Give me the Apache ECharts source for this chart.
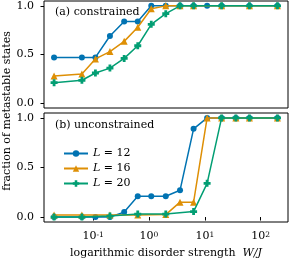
<!DOCTYPE html>
<html><head><meta charset="utf-8">
<script src="https://cdn.jsdelivr.net/npm/echarts@6/dist/echarts.min.js"></script>
<style>html,body{margin:0;padding:0;background:#fff}#c{width:293px;height:261px}</style>
</head><body><div id="c"></div>
<script>
const FONT = 'DejaVu Serif';
const xTickValues = [0.1, 1, 10, 100];
const yTickValues = [0, 0.5, 1];
const seriesNames = ['L = 12', 'L = 16', 'L = 20'];
const colors = ['#0173B2', '#DE8F05', '#029E73'];
// panel (a) constrained
const aX12 = [0.02, 0.063, 0.11, 0.2, 0.36, 0.63, 1.1, 2, 3.6, 6.3, 11, 20, 63, 200];
const aY12 = [0.47, 0.47, 0.47, 0.69, 0.84, 0.84, 1, 1, 1, 1, 1, 1, 1, 1];
const aX16 = [0.02, 0.063, 0.11, 0.2, 0.36, 0.63, 1.1, 2, 3.6, 6.3, 20, 63, 200];
const aY16 = [0.28, 0.30, 0.455, 0.53, 0.635, 0.78, 0.97, 1, 1, 1, 1, 1, 1];
const aX20 = [0.02, 0.063, 0.11, 0.2, 0.36, 0.63, 1.1, 2, 3.6, 6.3, 20, 63, 200];
const aY20 = [0.21, 0.235, 0.31, 0.36, 0.46, 0.59, 0.81, 0.92, 1, 1, 1, 1, 1];
// panel (b) unconstrained
const bX12 = [0.02, 0.063, 0.11, 0.2, 0.36, 0.63, 1.1, 2, 3.6, 6.3, 11, 20, 36, 63, 200];
const bY12 = [0, 0, 0, 0, 0.05, 0.21, 0.21, 0.21, 0.27, 0.89, 1, 1, 1, 1, 1];
const bX16 = [0.02, 0.063, 0.2, 0.63, 2, 3.6, 6.3, 11, 20, 36, 63, 200];
const bY16 = [0.02, 0.02, 0.02, 0.02, 0.025, 0.15, 0.15, 1, 1, 1, 1, 1];
const bX20 = [0.02, 0.063, 0.2, 0.63, 2, 6.3, 11, 20, 36, 63, 200];
const bY20 = [0, 0, 0.01, 0.03, 0.03, 0.055, 0.34, 1, 1, 1, 1];

const PLUS = 'path://M3,0H7V3H10V7H7V10H3V7H0V3H3Z';
const symbols = ['circle', 'triangle', PLUS];
const symSizes = [6, 7, 7];

function pairs(xs, ys) { return xs.map((x, i) => [x, ys[i]]); }
function mk(idx, panel, xs, ys) {
  return {
    type: 'line', name: seriesNames[idx], xAxisIndex: panel, yAxisIndex: panel,
    data: pairs(xs, ys), symbol: symbols[idx], symbolSize: symSizes[idx],
    lineStyle: { color: colors[idx], width: 1.5 },
    itemStyle: { color: colors[idx], borderWidth: 0 },
    z: 2 + idx, animation: false, silent: true
  };
}
function xFmt(v) {
  const e = Math.round(Math.log10(v));
  return '{b|10}{s|' + (e < 0 ? '-' + (-e) : e) + '}';
}
const txt = { fontFamily: FONT, fontSize: 11, color: '#000' };
function xAxis(panel, show) {
  return {
    type: 'log', logBase: 10, gridIndex: panel, min: 0.0132, max: 309,
    axisLine: { show: false }, splitLine: { show: false }, minorTick: { show: false },
    axisTick: { show: show, customValues: xTickValues, length: 3.5, lineStyle: { color: '#000', width: 1 } },
    axisLabel: { show: show, customValues: xTickValues, formatter: xFmt, margin: 9,
      rich: { b: { fontFamily: FONT, fontSize: 11, color: '#000', verticalAlign: 'bottom' },
              s: { fontFamily: FONT, fontSize: 7.5, color: '#000', verticalAlign: 'top' } } },
    name: show ? '{t|logarithmic disorder strength  }{i|W/J}' : '',
    nameLocation: 'middle', nameGap: 26,
    nameTextStyle: { rich: { t: txt, i: Object.assign({}, txt, { fontStyle: 'italic' }) } }
  };
}
function yAxis(panel) {
  return {
    type: 'value', gridIndex: panel, min: -0.05, max: 1.05,
    axisLine: { show: false }, splitLine: { show: false },
    axisTick: { show: true, customValues: yTickValues, length: 3.5, lineStyle: { color: '#000', width: 1 } },
    axisLabel: { customValues: yTickValues, formatter: v => v.toFixed(1), margin: 10, fontFamily: FONT, fontSize: 11, color: '#000' }
  };
}
const chart = echarts.init(document.getElementById('c'), null, { renderer: 'canvas' });
chart.setOption({
  animation: false,
  backgroundColor: '#fff',
  grid: [
    { left: 44, right: 5, top: 1, height: 107, show: true, borderColor: '#000', borderWidth: 1 },
    { left: 44, right: 5, top: 113, height: 109, show: true, borderColor: '#000', borderWidth: 1 }
  ],
  xAxis: [xAxis(0, false), xAxis(1, true)],
  yAxis: [yAxis(0), yAxis(1)],
  legend: {
    orient: 'vertical', left: 58, top: 143, itemWidth: 24, itemHeight: 8, itemGap: 4,
    data: seriesNames,
    formatter: n => '{i|L} = ' + n.split('= ')[1],
    textStyle: Object.assign({}, txt, { rich: { i: Object.assign({}, txt, { fontStyle: 'italic' }) } })
  },
  graphic: [
    { type: 'text', x: 55, y: 12, style: { text: '(a) constrained', textVerticalAlign: 'middle', fill: '#000', font: '11px "DejaVu Serif"' } },
    { type: 'text', x: 55, y: 125, style: { text: '(b) unconstrained', textVerticalAlign: 'middle', fill: '#000', font: '11px "DejaVu Serif"' } },
    { type: 'text', x: 7, y: 111, rotation: Math.PI / 2, style: { text: 'fraction of metastable states', textAlign: 'center', textVerticalAlign: 'middle', fill: '#000', font: '11px "DejaVu Serif"' } }
  ],
  series: [
    mk(0, 0, aX12, aY12), mk(1, 0, aX16, aY16), mk(2, 0, aX20, aY20),
    mk(0, 1, bX12, bY12), mk(1, 1, bX16, bY16), mk(2, 1, bX20, bY20)
  ]
});
</script></body></html>
